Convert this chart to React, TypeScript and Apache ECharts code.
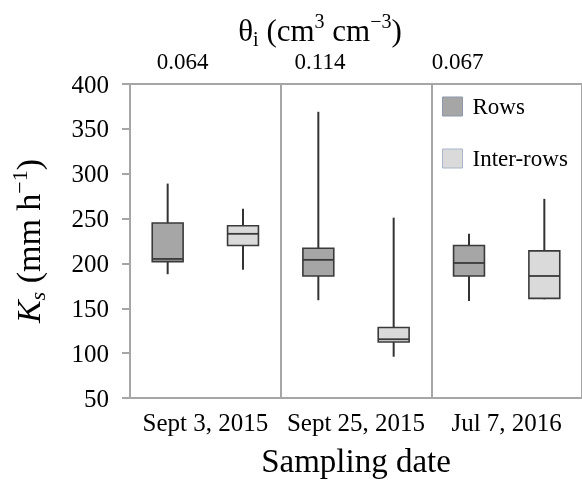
import React, { useEffect, useRef } from "react";
import * as echarts from "echarts";

const dates = ["Sept 3, 2015", "Sept 25, 2015", "Jul 7, 2016"];
const thetaLabels = ["0.064", "0.114", "0.067"];
const slots = ["S3-R", "S3-I", "S25-R", "S25-I", "J7-R", "J7-I"];
// [min, Q1, median, Q3, max]
const rowsStats = [
  [188, 202, 205, 245, 289],
  [159, 186, 204, 217, 369],
  [158, 186, 200.5, 220, 233],
];
const interStats = [
  [193, 220, 233, 242, 261],
  [96, 112.5, 115.5, 128.5, 251],
  [160, 161, 186, 214, 272],
];
const yTicks = { min: 50, max: 400, interval: 50 };

const FONT = "Liberation Serif";
const AXIS_GRAY = "#a6a6a6";
const INK = "#000000";

function renderBox(fill: string) {
  return (params: any, api: any) => {
    const x = api.value(0);
    const pMin = api.coord([x, api.value(1)]);
    const pQ1 = api.coord([x, api.value(2)]);
    const pMed = api.coord([x, api.value(3)]);
    const pQ3 = api.coord([x, api.value(4)]);
    const pMax = api.coord([x, api.value(5)]);
    const bw = api.size([1, 0])[0] * 0.41;
    const cx = pMed[0];
    const lineStyle = { stroke: "#333333", lineWidth: 2 };
    return {
      type: "group",
      children: [
        { type: "line", shape: { x1: cx, y1: pMax[1], x2: cx, y2: pQ3[1] }, style: lineStyle },
        { type: "line", shape: { x1: cx, y1: pQ1[1], x2: cx, y2: pMin[1] }, style: lineStyle },
        {
          type: "rect",
          shape: { x: cx - bw / 2, y: pQ3[1], width: bw, height: pQ1[1] - pQ3[1] },
          style: { fill, stroke: "#3a3a3a", lineWidth: 1.6 },
        },
        {
          type: "line",
          shape: { x1: cx - bw / 2, y1: pMed[1], x2: cx + bw / 2, y2: pMed[1] },
          style: { stroke: "#3a3a3a", lineWidth: 1.8 },
        },
      ],
    };
  };
}

export default function App() {
  const ref = useRef<HTMLDivElement>(null);
  useEffect(() => {
    if (!ref.current) return;
    const chart = echarts.init(ref.current, null, { renderer: "svg" });
    const rowsData = rowsStats.map((s, i) => [i * 2, ...s]);
    const interData = interStats.map((s, i) => [i * 2 + 1, ...s]);
    chart.setOption({
      animation: false,
      textStyle: { fontFamily: FONT },
      grid: [
        { left: 126, top: 84, right: -4, bottom: 84 },
        { left: 113.75, top: 84, width: 412.5, height: 1 },
      ],
      legend: {
        orient: "vertical",
        left: 442,
        top: 95,
        padding: 0,
        itemWidth: 20,
        itemHeight: 19,
        itemGap: 29,
        icon: "rect",
        textStyle: { fontFamily: FONT, fontSize: 23, color: INK, padding: [2, 0, 0, 5] },
        data: [
          { name: "Rows", itemStyle: { color: "#a6a6a6", borderColor: "#8d98ad", borderWidth: 1 } },
          { name: "Inter-rows", itemStyle: { color: "#dadada", borderColor: "#a9b5c8", borderWidth: 1 } },
        ],
      },
      xAxis: [
        {
          type: "category",
          gridIndex: 0,
          data: dates,
          position: "bottom",
          axisLine: { show: true, lineStyle: { color: AXIS_GRAY, width: 2 } },
          axisTick: { show: false },
          splitLine: { show: true, interval: 0, lineStyle: { color: AXIS_GRAY, width: 2 } },
          axisLabel: { interval: 0, fontFamily: FONT, fontSize: 25, color: INK, margin: 12 },
          name: "Sampling date",
          nameLocation: "middle",
          nameGap: 46,
          nameTextStyle: { fontFamily: FONT, fontSize: 33, color: INK },
        },
        {
          type: "category",
          gridIndex: 0,
          data: slots,
          show: false,
        },
        {
          type: "category",
          gridIndex: 0,
          data: dates,
          position: "top",
          axisLine: { show: true, lineStyle: { color: AXIS_GRAY, width: 2 } },
          axisTick: { show: false },
          axisLabel: { show: false },
        },
        {
          type: "category",
          gridIndex: 1,
          data: thetaLabels,
          position: "top",
          axisLine: { show: false },
          axisTick: { show: false },
          axisLabel: { interval: 0, fontFamily: FONT, fontSize: 23, color: INK, margin: 11 },
          name: "{t|θ}{i|i}{t| (cm}{sup|3}{t| cm}{sup|−3}{t|)}",
          nameLocation: "middle",
          nameGap: 33,
          nameTextStyle: {
            fontFamily: FONT,
            fontSize: 31,
            color: INK,
            rich: {
              t: { fontFamily: FONT, fontSize: 31, color: INK, lineHeight: 38, verticalAlign: "middle" },
              i: { fontFamily: FONT, fontSize: 20, color: INK, lineHeight: 38, verticalAlign: "bottom" },
              sup: { fontFamily: FONT, fontSize: 20, color: INK, lineHeight: 38, verticalAlign: "top" },
            },
          },
        },
      ],
      yAxis: [
        {
          type: "value",
          gridIndex: 0,
          min: yTicks.min,
          max: yTicks.max,
          interval: yTicks.interval,
          axisLine: { show: true, lineStyle: { color: AXIS_GRAY, width: 2 } },
          axisTick: { show: true, length: 8, lineStyle: { color: AXIS_GRAY, width: 2 } },
          splitLine: { show: false },
          axisLabel: { fontFamily: FONT, fontSize: 25, color: INK, margin: 21 },
          name: "{k|K}{s|s}{t| (mm h}{sup|−1}{t|)}",
          nameLocation: "middle",
          nameGap: 82,
          nameRotate: 90,
          nameTextStyle: {
            fontFamily: FONT,
            fontSize: 34,
            color: INK,
            rich: {
              k: { fontFamily: FONT, fontSize: 34, fontStyle: "italic", color: INK, lineHeight: 40, verticalAlign: "middle" },
              s: { fontFamily: FONT, fontSize: 22, fontStyle: "italic", color: INK, lineHeight: 40, verticalAlign: "bottom" },
              t: { fontFamily: FONT, fontSize: 34, color: INK, lineHeight: 40, verticalAlign: "middle" },
              sup: { fontFamily: FONT, fontSize: 22, color: INK, lineHeight: 40, verticalAlign: "top" },
            },
          },
        },
        { type: "value", gridIndex: 1, show: false },
      ],
      series: [
        {
          name: "Rows",
          type: "custom",
          xAxisIndex: 1,
          yAxisIndex: 0,
          itemStyle: { color: "#a6a6a6" },
          renderItem: renderBox("#a6a6a6"),
          encode: { x: 0, y: [1, 2, 3, 4, 5] },
          data: rowsData,
        },
        {
          name: "Inter-rows",
          type: "custom",
          xAxisIndex: 1,
          yAxisIndex: 0,
          itemStyle: { color: "#dadada" },
          renderItem: renderBox("#dadada"),
          encode: { x: 0, y: [1, 2, 3, 4, 5] },
          data: interData,
        },
      ],
    });
    return () => chart.dispose();
  }, []);
  return (
    <div
      ref={ref}
      style={{ position: "fixed", left: 0, top: 0, width: 582, height: 482 }}
    />
  );
}
